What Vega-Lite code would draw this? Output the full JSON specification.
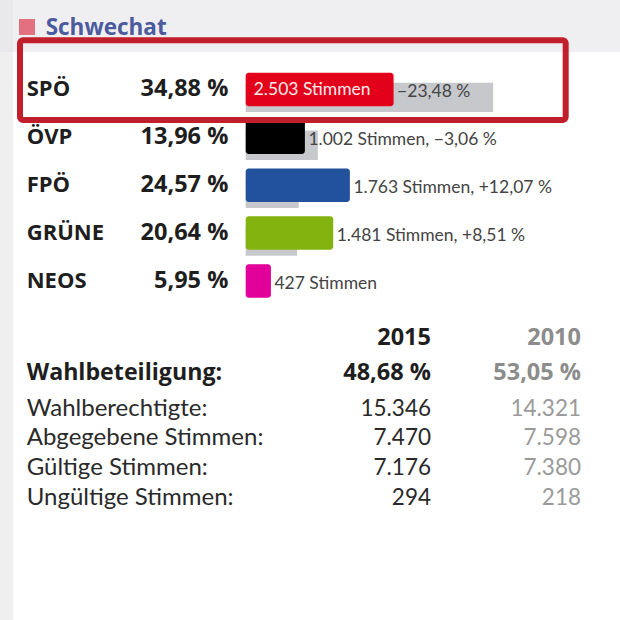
{
  "$schema": "https://vega.github.io/schema/vega-lite/v6.json",
  "background": "white",
  "padding": 0,
  "spacing": 0,
  "bounds": "flush",
  "config": {"view": {"stroke": null}, "font": "Lato", "text": {"font": "Lato"}},
  "vconcat": [
    {
      "width": 620, "height": 52,
      "view": {"fill": "#efeff2", "stroke": null},
      "data": {"values": [{"gemeinde": "Schwechat"}]},
      "layer": [
        {"mark": {"type": "rect", "color": "#e9e9eb"},
         "encoding": {"x": {"datum": -57.95, "type": "quantitative", "scale": {"domain": [-57.95, 88.28], "nice": false, "zero": false}, "axis": null}, "x2": {"datum": -54.88}}},
        {"mark": {"type": "square", "size": 256, "color": "#e2707f", "opacity": 1, "filled": true, "yOffset": 1},
         "encoding": {"x": {"datum": -51.58, "type": "quantitative", "scale": {"domain": [-57.95, 88.28], "nice": false, "zero": false}, "axis": null}}},
        {"mark": {"type": "text", "align": "left", "baseline": "middle", "font": "Open Sans", "fontSize": 22.5, "fontWeight": "bold", "color": "#4b5b9d", "yOffset": 2},
         "encoding": {"x": {"datum": -47.18, "type": "quantitative", "scale": {"domain": [-57.95, 88.28], "nice": false, "zero": false}, "axis": null}, "text": {"field": "gemeinde"}}}
      ]
    },
    {
      "width": 620, "height": 260,
      "data": {"values": [
        {"party": "SPÖ", "pct": 34.88, "pct2010": 58.36, "pctText": "34,88 %", "inBar": "2.503 Stimmen", "afterBar": "−23,48 %"},
        {"party": "ÖVP", "pct": 13.96, "pct2010": 17.02, "pctText": "13,96 %", "inBar": "", "afterBar": "1.002 Stimmen, −3,06 %"},
        {"party": "FPÖ", "pct": 24.57, "pct2010": 12.50, "pctText": "24,57 %", "inBar": "", "afterBar": "1.763 Stimmen, +12,07 %"},
        {"party": "GRÜNE", "pct": 20.64, "pct2010": 12.13, "pctText": "20,64 %", "inBar": "", "afterBar": "1.481 Stimmen, +8,51 %"},
        {"party": "NEOS", "pct": 5.95, "pct2010": null, "pctText": "5,95 %", "inBar": "", "afterBar": "427 Stimmen"}
      ]},
      "encoding": {
        "y": {"field": "party", "type": "nominal", "sort": null, "axis": null,
              "scale": {"type": "band", "paddingInner": 0, "paddingOuter": 0.214, "align": 0.656}}
      },
      "layer": [
        {"mark": {"type": "rect", "color": "#efefef"},
         "encoding": {"y": null, "x": {"datum": -57.95, "type": "quantitative", "scale": {"domain": [-57.95, 88.28], "nice": false, "zero": false}, "axis": null}, "x2": {"datum": -54.88}}},
        {"transform": [{"filter": "datum.pct2010 != null"}],
         "mark": {"type": "bar", "height": 29.4, "yOffset": 8, "color": "#c7c8cc"},
         "encoding": {"x": {"field": "pct2010", "type": "quantitative", "scale": {"domain": [-57.95, 88.28], "nice": false, "zero": false}, "axis": null}, "x2": {"datum": 0}}},
        {"mark": {"type": "bar", "height": 33.5, "cornerRadius": 3},
         "encoding": {"x": {"field": "pct", "type": "quantitative"}, "x2": {"datum": 0},
                      "color": {"field": "party", "type": "nominal", "legend": null,
                                "scale": {"domain": ["SPÖ", "ÖVP", "FPÖ", "GRÜNE", "NEOS"], "range": ["#e3001b", "#000000", "#22519e", "#82b30e", "#e3009a"]}}}},
        {"transform": [{"filter": "datum.party == 'SPÖ'"}],
         "mark": {"type": "bar", "height": 79.7, "yOffset": -9.25, "fillOpacity": 0, "stroke": "#c11f2b", "strokeWidth": 6, "cornerRadius": 3},
         "encoding": {"x": {"datum": -53.23, "type": "quantitative"}, "x2": {"datum": 75.47}}},
        {"mark": {"type": "text", "align": "left", "baseline": "middle", "font": "Open Sans", "fontSize": 22, "fontWeight": "bold", "color": "#1e1e1e"},
         "encoding": {"x": {"datum": -51.65, "type": "quantitative"}, "text": {"field": "party"}}},
        {"mark": {"type": "text", "align": "right", "baseline": "middle", "font": "Open Sans", "fontSize": 23.5, "fontWeight": "bold", "color": "#1e1e1e"},
         "encoding": {"x": {"datum": -4.1, "type": "quantitative"}, "text": {"field": "pctText"}}},
        {"mark": {"type": "text", "align": "left", "baseline": "middle", "fontSize": 17.5, "color": "#ffecec", "dx": 8, "dy": 1},
         "encoding": {"x": {"datum": 0, "type": "quantitative"}, "text": {"field": "inBar"}}},
        {"mark": {"type": "text", "align": "left", "baseline": "middle", "fontSize": 17.5, "color": "#444444", "dx": 3.5, "dy": 3},
         "encoding": {"x": {"field": "pct", "type": "quantitative"}, "text": {"field": "afterBar"}}}
      ]
    },
    {
      "width": 620, "height": 80,
      "data": {"values": [
        {"item": "Jahr", "label": "", "v2015": "2015", "v2010": "2010"},
        {"item": "Wahlbeteiligung", "label": "Wahlbeteiligung:", "v2015": "48,68 %", "v2010": "53,05 %"}
      ]},
      "encoding": {
        "y": {"field": "item", "type": "nominal", "sort": null, "axis": null,
              "scale": {"type": "band", "paddingInner": 0, "paddingOuter": 0.1429, "align": 0.85}}
      },
      "layer": [
        {"mark": {"type": "rect", "color": "#efefef"},
         "encoding": {"y": null, "x": {"datum": -57.95, "type": "quantitative", "scale": {"domain": [-57.95, 88.28], "nice": false, "zero": false}, "axis": null}, "x2": {"datum": -54.88}}},
        {"mark": {"type": "text", "align": "left", "baseline": "middle", "font": "Open Sans", "fontSize": 23.2, "fontWeight": "bold", "color": "#1e1e1e"},
         "encoding": {"x": {"datum": -51.65, "type": "quantitative"}, "text": {"field": "label"}}},
        {"mark": {"type": "text", "align": "right", "baseline": "middle", "font": "Open Sans", "fontSize": 23.5, "fontWeight": "bold", "color": "#1e1e1e"},
         "encoding": {"x": {"datum": 43.7, "type": "quantitative"}, "text": {"field": "v2015"}}},
        {"mark": {"type": "text", "align": "right", "baseline": "middle", "font": "Open Sans", "fontSize": 23.5, "fontWeight": "bold", "color": "#8c8c8c"},
         "encoding": {"x": {"datum": 79.08, "type": "quantitative"}, "text": {"field": "v2010"}}}
      ]
    },
    {
      "width": 620, "height": 135,
      "data": {"values": [
        {"item": "Wahlberechtigte", "label": "Wahlberechtigte:", "v2015": "15.346", "v2010": "14.321"},
        {"item": "Abgegebene", "label": "Abgegebene Stimmen:", "v2015": "7.470", "v2010": "7.598"},
        {"item": "Gültige", "label": "Gültige Stimmen:", "v2015": "7.176", "v2010": "7.380"},
        {"item": "Ungültige", "label": "Ungültige Stimmen:", "v2015": "294", "v2010": "218"}
      ]},
      "encoding": {
        "y": {"field": "item", "type": "nominal", "sort": null, "axis": null,
              "scale": {"type": "band", "paddingInner": 0, "paddingOuter": 0.275, "align": 0.121}}
      },
      "layer": [
        {"mark": {"type": "rect", "color": "#efefef"},
         "encoding": {"y": null, "x": {"datum": -57.95, "type": "quantitative", "scale": {"domain": [-57.95, 88.28], "nice": false, "zero": false}, "axis": null}, "x2": {"datum": -54.88}}},
        {"mark": {"type": "text", "align": "left", "baseline": "middle", "fontSize": 24, "color": "#2a2a2a"},
         "encoding": {"x": {"datum": -51.65, "type": "quantitative"}, "text": {"field": "label"}}},
        {"mark": {"type": "text", "align": "right", "baseline": "middle", "fontSize": 22.5, "color": "#2a2a2a"},
         "encoding": {"x": {"datum": 43.7, "type": "quantitative"}, "text": {"field": "v2015"}}},
        {"mark": {"type": "text", "align": "right", "baseline": "middle", "fontSize": 22.5, "color": "#9a9a9a"},
         "encoding": {"x": {"datum": 79.08, "type": "quantitative"}, "text": {"field": "v2010"}}}
      ]
    },
    {
      "width": 620, "height": 93,
      "data": {"values": [{"x": 0}]},
      "layer": [
        {"mark": {"type": "rect", "color": "#efefef"},
         "encoding": {"x": {"datum": -57.95, "type": "quantitative", "scale": {"domain": [-57.95, 88.28], "nice": false, "zero": false}, "axis": null}, "x2": {"datum": -54.88}}}
      ]
    }
  ]
}
